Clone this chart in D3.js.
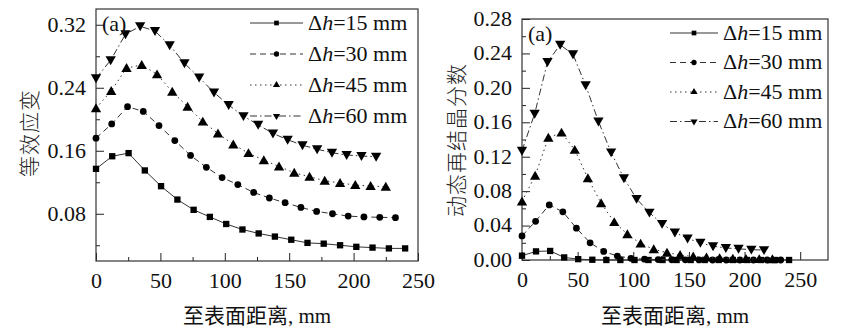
<!DOCTYPE html>
<html><head><meta charset="utf-8">
<script src="https://cdn.jsdelivr.net/npm/d3@7"></script>
<style>
html,body{margin:0;padding:0;background:#fff;}
</style></head>
<body>
<svg id="c" width="865" height="330"></svg>
<script>
// ---------- data ----------
const deltaH = [15, 30, 45, 60];
const seriesLabels = ["15", "30", "45", "60"];
const xTicks = [0, 50, 100, 150, 200, 250];
const xMinorTicks = [25, 75, 125, 175, 225];
const leftYTicks = [0.08, 0.16, 0.24, 0.32];
const leftYMinor = [0.04, 0.12, 0.20, 0.28];
const rightYTicks = [0.00, 0.04, 0.08, 0.12, 0.16, 0.20, 0.24, 0.28];
const rightYMinor = [0.02, 0.06, 0.10, 0.14, 0.18, 0.22, 0.26];

// distance from surface (mm) for each series
const x15 = [0, 12.6, 25.3, 37.9, 50.5, 63.2, 75.8, 88.4, 101.1, 113.7, 126.3, 138.9, 151.6, 164.2, 176.8, 189.5, 202.1, 214.7, 227.4, 240];
const x30 = [0, 12.2, 24.5, 36.7, 48.9, 61.2, 73.4, 85.7, 97.9, 110.1, 122.4, 134.6, 146.8, 159.1, 171.3, 183.6, 195.8, 208.0, 220.3, 232.5];
const x45 = [0, 11.8, 23.7, 35.5, 47.4, 59.2, 71.1, 82.9, 94.7, 106.6, 118.4, 130.3, 142.1, 153.9, 165.8, 177.6, 189.5, 201.3, 213.2, 225];
const x60 = [0, 11.4, 22.9, 34.3, 45.8, 57.2, 68.7, 80.1, 91.6, 103.0, 114.5, 125.9, 137.4, 148.8, 160.3, 171.7, 183.2, 194.6, 206.1, 217.5];

// equivalent strain (left panel)
const strain15 = [0.137, 0.153, 0.157, 0.135, 0.115, 0.098, 0.085, 0.076, 0.067, 0.060, 0.055, 0.051, 0.047, 0.043, 0.042, 0.040, 0.038, 0.037, 0.036, 0.036];
const strain30 = [0.176, 0.194, 0.216, 0.210, 0.192, 0.173, 0.154, 0.139, 0.126, 0.117, 0.107, 0.100, 0.094, 0.088, 0.083, 0.080, 0.077, 0.076, 0.0755, 0.075];
const strain45 = [0.214, 0.236, 0.265, 0.269, 0.257, 0.235, 0.216, 0.197, 0.182, 0.168, 0.157, 0.148, 0.140, 0.132, 0.127, 0.122, 0.119, 0.1165, 0.1152, 0.1143];
const strain60 = [0.252, 0.275, 0.308, 0.318, 0.312, 0.294, 0.271, 0.253, 0.234, 0.218, 0.204, 0.193, 0.182, 0.174, 0.167, 0.162, 0.1575, 0.1546, 0.1533, 0.1524];

// dynamic recrystallization fraction (right panel)
const drx15 = [0.005, 0.010, 0.0105, 0.003, 0.001, 0.0003, 0, 0, 0, 0, 0, 0, 0, 0, 0, 0, 0, 0, 0, 0];
const drx30 = [0.028, 0.045, 0.064, 0.056, 0.037, 0.020, 0.010, 0.0046, 0.002, 0.001, 0.0005, 0.0003, 0.0002, 0.0001, 0, 0, 0, 0, 0, 0];
const drx45 = [0.068, 0.098, 0.142, 0.148, 0.128, 0.095, 0.066, 0.044, 0.030, 0.019, 0.0125, 0.0085, 0.0058, 0.004, 0.003, 0.0022, 0.0015, 0.0012, 0.001, 0.0008];
const drx60 = [0.127, 0.170, 0.230, 0.250, 0.239, 0.203, 0.161, 0.125, 0.095, 0.071, 0.055, 0.042, 0.032, 0.025, 0.020, 0.016, 0.014, 0.013, 0.012, 0.0115];

const xLabel = "至表面距离, mm";
const leftYLabel = "等效应变";
const rightYLabel = "动态再结晶分数";
const panelTag = "(a)";

// ---------- drawing ----------
const SERIF = "'Liberation Serif', 'Times New Roman', 'DejaVu Serif', 'Noto Sans CJK SC', serif";
const CJK = "'Noto Sans CJK SC', sans-serif";
const STRETCH = "scale(1.1,1)";
const svg = d3.select("#c");
const xs = [x15, x30, x45, x60];
const dashes = [null, "6,4", "1.5,3.5", "7,3,1.5,3"];
const symbols = [d3.symbolSquare, d3.symbolCircle, d3.symbolTriangle, d3.symbolTriangle];
const symSizes = [40, 36, 46, 46];
const symRot = [0, 0, 0, 180];

function panel(cfg) {
  const g = svg.append("g");
  const x = d3.scaleLinear().domain(cfg.xDomain).range([cfg.left, cfg.right]);
  const y = d3.scaleLinear().domain(cfg.yDomain).range([cfg.bottom, cfg.top]);

  // axes (ticks inward)
  const xa = g.append("g").attr("transform", `translate(0,${cfg.bottom})`)
    .call(d3.axisBottom(x).tickValues(xTicks).tickSizeInner(-8).tickSizeOuter(0).tickPadding(13).tickFormat(d3.format("d")));
  const xm = g.append("g").attr("transform", `translate(0,${cfg.bottom})`)
    .call(d3.axisBottom(x).tickValues(xMinorTicks).tickSizeInner(-4).tickSizeOuter(0).tickFormat(""));
  const ya = g.append("g").attr("transform", `translate(${cfg.left},0)`)
    .call(d3.axisLeft(y).tickValues(cfg.yTicks).tickSizeInner(-8).tickSizeOuter(0).tickPadding(9).tickFormat(d3.format(".2f")));
  const ym = g.append("g").attr("transform", `translate(${cfg.left},0)`)
    .call(d3.axisLeft(y).tickValues(cfg.yMinor).tickSizeInner(-4).tickSizeOuter(0).tickFormat(""));
  [xa, xm, ya, ym].forEach(a => {
    a.attr("font-family", null).attr("font-size", null);
    a.select(".domain").remove();
    a.selectAll("line").attr("stroke", "#222").attr("stroke-width", 1);
    a.selectAll("text").style("font-family", SERIF).style("font-size", "20px")
      .attr("fill", "#111").attr("transform", STRETCH);
  });

  // frame
  g.append("rect").attr("x", cfg.left).attr("y", cfg.top)
    .attr("width", cfg.right - cfg.left).attr("height", cfg.bottom - cfg.top)
    .attr("fill", "none").attr("stroke", "#333").attr("stroke-width", 1.2);

  // series
  const line = d3.line().x(d => x(d[0])).y(d => y(d[1]));
  cfg.series.forEach((vals, i) => {
    const pts = xs[i].map((xv, k) => [xv, vals[k]]);
    g.append("path").attr("d", line(pts)).attr("fill", "none")
      .attr("stroke", "#333").attr("stroke-width", 1)
      .attr("stroke-dasharray", dashes[i]);
    g.selectAll(null).data(pts).enter().append("path")
      .attr("d", d3.symbol().type(symbols[i]).size(symSizes[i]))
      .attr("transform", d => `translate(${x(d[0])},${y(d[1]) + (i >= 2 ? (symRot[i] ? -1 : 1) : 0)}) rotate(${symRot[i]})`)
      .attr("fill", "#000");
  });

  // panel tag
  g.append("g").attr("transform", `translate(${cfg.left + 6},${cfg.tagY}) ${STRETCH}`)
    .append("text").attr("dominant-baseline", "central")
    .style("font-family", SERIF).style("font-size", "20px").attr("fill", "#111").text(panelTag);

  // legend
  cfg.series.forEach((vals, i) => {
    const ly = cfg.legY + i * cfg.legStep;
    g.append("line").attr("x1", cfg.legX1).attr("x2", cfg.legX2).attr("y1", ly).attr("y2", ly)
      .attr("stroke", "#333").attr("stroke-width", 1).attr("stroke-dasharray", dashes[i]);
    g.append("path").attr("d", d3.symbol().type(symbols[i]).size(22))
      .attr("transform", `translate(${(cfg.legX1 + cfg.legX2) / 2},${ly}) rotate(${symRot[i]})`)
      .attr("fill", "#000");
    const t = g.append("g").attr("transform", `translate(${cfg.legTextX},${ly}) ${STRETCH}`)
      .append("text").attr("dominant-baseline", "central")
      .style("font-family", SERIF).style("font-size", "20px").attr("fill", "#111");
    t.append("tspan").text("Δ");
    t.append("tspan").style("font-style", "italic").text("h");
    t.append("tspan").text("=" + seriesLabels[i] + " mm");
  });

  // axis titles
  g.append("text").attr("x", (cfg.left + cfg.right) / 2).attr("y", 316)
    .attr("text-anchor", "middle").attr("dominant-baseline", "central")
    .style("font-family", SERIF).style("font-size", "21px").attr("fill", "#111").text(xLabel);
  g.append("text").attr("transform", `translate(${cfg.yLabelX},${cfg.yLabelY}) rotate(-90)`)
    .attr("text-anchor", "middle").attr("dominant-baseline", "central")
    .style("font-family", CJK).style("font-weight", "300")
    .style("font-size", "21px").attr("letter-spacing", 1).attr("fill", "#222").text(cfg.yLabel);
}

panel({
  left: 96, right: 418, top: 9, bottom: 261,
  xDomain: [0, 250], yDomain: [0.02, 0.34],
  yTicks: leftYTicks, yMinor: leftYMinor,
  series: [strain15, strain30, strain45, strain60],
  tagY: 24, legX1: 250, legX2: 303, legTextX: 308, legY: 23, legStep: 31,
  yLabel: leftYLabel, yLabelX: 28, yLabelY: 133
});
panel({
  left: 522, right: 828, top: 19, bottom: 260,
  xDomain: [0, 275], yDomain: [0, 0.28],
  yTicks: rightYTicks, yMinor: rightYMinor,
  series: [drx15, drx30, drx45, drx60],
  tagY: 34, legX1: 670, legX2: 718, legTextX: 723, legY: 33, legStep: 29.5,
  yLabel: rightYLabel, yLabelX: 455, yLabelY: 140
});
</script>
</body></html>
